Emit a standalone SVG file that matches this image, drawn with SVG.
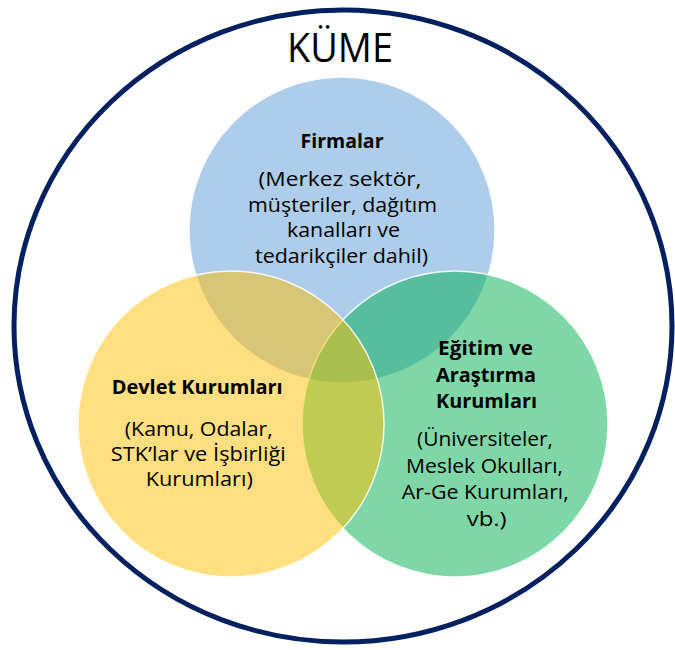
<svg xmlns="http://www.w3.org/2000/svg" width="675" height="650" viewBox="0 0 675 650">
<style>
  .t { font-family: "Open Sans", "Liberation Sans", sans-serif; fill: #000; text-anchor: middle; font-size: 20px; }
  .b { font-weight: bold; }
  .k { font-size: 40px; }
  .c { stroke: #ffffff; stroke-width: 1.5; stroke-opacity: 0.85; fill-opacity: 0.5; }
</style>
<rect width="675" height="650" fill="#ffffff"/>
<g id="kume">
  <ellipse cx="343" cy="326" rx="329" ry="316" fill="none" stroke="#002060" stroke-width="5"/>
  <text class="t k" x="340" y="62" textLength="106" lengthAdjust="spacingAndGlyphs">KÜME</text>
</g>
<g id="firmalar">
  <circle class="c" cx="342" cy="230" r="153" fill="#5B9BD5"/>
  <text class="t b" x="342" y="148" textLength="83" lengthAdjust="spacingAndGlyphs">Firmalar</text>
  <text class="t" x="340" y="186" textLength="163" lengthAdjust="spacingAndGlyphs">(Merkez sektör,</text>
  <text class="t" x="342.5" y="211.5" textLength="189" lengthAdjust="spacingAndGlyphs">müşteriler, dağıtım</text>
  <text class="t" x="343.5" y="237" textLength="113" lengthAdjust="spacingAndGlyphs">kanalları ve</text>
  <text class="t" x="341.5" y="262.5" textLength="173" lengthAdjust="spacingAndGlyphs">tedarikçiler dahil)</text>
</g>
<g id="egitim">
  <circle class="c" cx="455" cy="424" r="153" fill="#00B050"/>
  <text class="t b" x="485.5" y="355" textLength="95" lengthAdjust="spacingAndGlyphs">Eğitim ve</text>
  <text class="t b" x="486" y="381.5" textLength="100" lengthAdjust="spacingAndGlyphs">Araştırma</text>
  <text class="t b" x="486.5" y="408" textLength="101" lengthAdjust="spacingAndGlyphs">Kurumları</text>
  <text class="t" x="485" y="446" textLength="136" lengthAdjust="spacingAndGlyphs">(Üniversiteler,</text>
  <text class="t" x="484.5" y="472.5" textLength="157" lengthAdjust="spacingAndGlyphs">Meslek Okulları,</text>
  <text class="t" x="485.3" y="499" textLength="167" lengthAdjust="spacingAndGlyphs">Ar-Ge Kurumları,</text>
  <text class="t" x="486.7" y="525.5" textLength="40" lengthAdjust="spacingAndGlyphs">vb.)</text>
</g>
<g id="devlet">
  <circle class="c" cx="231" cy="424" r="153" fill="#FFC000"/>
  <text class="t b" x="197.2" y="394" textLength="171" lengthAdjust="spacingAndGlyphs">Devlet Kurumları</text>
  <text class="t" x="198.8" y="435.5" textLength="148" lengthAdjust="spacingAndGlyphs">(Kamu, Odalar,</text>
  <text class="t" x="198.3" y="460.5" textLength="175" lengthAdjust="spacingAndGlyphs">STK’lar ve İşbirliği</text>
  <text class="t" x="199.3" y="485.5" textLength="107" lengthAdjust="spacingAndGlyphs">Kurumları)</text>
</g>
<g id="connectors"></g>
</svg>
